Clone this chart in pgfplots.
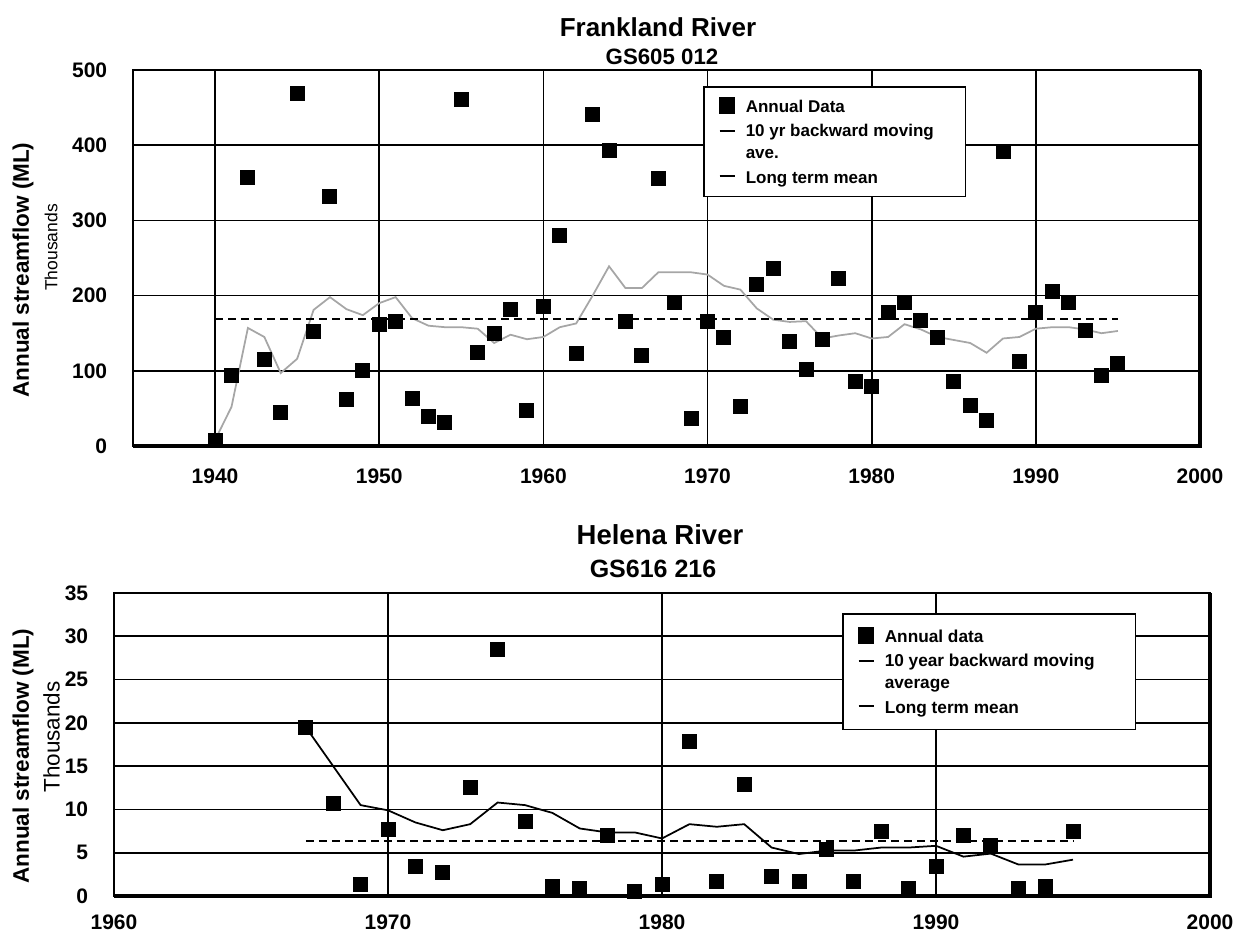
\documentclass[border=0pt]{standalone}
\usepackage{fontspec}
\setmainfont{Liberation Sans}
\usepackage{pgfplots}
\usepackage{pgfplotstable}
\pgfplotsset{compat=1.18}

% Frankland River, GS605 012 (annual flow and 10 yr moving average, ML thousands)
\pgfplotstableread{
year annual mavg
1940 8 8
1941 94 52
1942 357 157
1943 115 145
1944 44 97
1945 469 116
1946 152 181
1947 332 198
1948 62 182
1949 100 174
1950 162 190
1951 165 198
1952 63 170
1953 39 160
1954 31 158
1955 461 158
1956 125 156
1957 150 137
1958 181 148
1959 47 142
1960 186 145
1961 280 158
1962 123 163
1963 441 200
1964 393 239
1965 165 210
1966 120 210
1967 356 231
1968 191 231
1969 36 231
1970 165 228
1971 144 213
1972 52 208
1973 215 183
1974 236 168
1975 139 165
1976 102 166
1977 141 143
1978 223 147
1979 86 150
1980 79 143
1981 178 145
1982 191 162
1983 167 155
1984 144 145
1985 86 141
1986 54 137
1987 34 124
1988 392 143
1989 112 145
1990 178 156
1991 206 158
1992 191 158
1993 154 155
1994 94 150
1995 110 153
}\frankland

% Helena River, GS616 216
\pgfplotstableread{
year annual mavg
1967 19.5 19.5
1968 10.7 15.0
1969 1.35 10.5
1970 7.7 9.9
1971 3.4 8.5
1972 2.7 7.6
1973 12.5 8.3
1974 28.5 10.8
1975 8.6 10.5
1976 1.15 9.6
1977 0.9 7.8
1978 7.0 7.35
1979 0.5 7.35
1980 1.35 6.65
1981 17.9 8.3
1982 1.7 8.0
1983 12.9 8.3
1984 2.2 5.6
1985 1.7 4.85
1986 5.4 5.25
1987 1.7 5.25
1988 7.5 5.6
1989 0.9 5.6
1990 3.4 5.8
1991 7.0 4.55
1992 5.8 4.9
1993 0.9 3.65
1994 1.15 3.65
1995 7.5 4.2
}\helena

\pgfplotsset{
  river/.style={
    scale only axis,
    anchor=south west,
    clip=false,
    axis line style={line width=0.8pt},
    grid=major,
    major grid style={black, line width=0.7pt},
    major tick length=0pt,
    ticklabel style={font=\bfseries\fontsize{8.4}{10}\selectfont},
    xticklabel style={yshift=-5.4pt},
    yticklabel style={xshift=-6.8pt},
    /pgf/number format/assume math mode=true,
    /pgf/number format/set thousands separator={},
    legend cell align=left,
    legend style={anchor=north west, draw=black, line width=0.7pt,
      cells={align=left}, row sep=2pt, inner xsep=6pt, inner ysep=3.2pt,
      nodes={inner xsep=2.5pt, inner ysep=1pt, text depth=0pt}},
    after end axis/.code={
      \draw[line width=1.4pt] (rel axis cs:0,0) -- (rel axis cs:1,0) -- (rel axis cs:1,1);
    },
  },
  % legend images: square, short line, short line beside the first of two text lines
  sqimg/.style={legend image code/.code={
    \path[draw=none, fill=none] (0pt,-4.4pt) rectangle (8pt,4.4pt);
    \fill[black] (0pt,-2.7pt) rectangle (6pt,3.3pt);}},
  lnimg/.style={legend image code/.code={
    \path[draw=none, fill=none] (0pt,-4.4pt) rectangle (8pt,4.4pt);
    \draw[black, line width=0.7pt] (0pt,0.6pt) -- (6pt,0.6pt);}},
  lnimgtwo/.style={legend image code/.code={
    \path[draw=none, fill=none] (0pt,-4.4pt) rectangle (8pt,4.4pt);
    \draw[black, line width=0.7pt] (0pt,4.4pt) -- (6pt,4.4pt);}},
}

\begin{document}
\begin{tikzpicture}
\useasboundingbox (0,0) rectangle (494.4pt,-372.8pt);

% ---- Frankland River ----
\node[font=\bfseries\fontsize{10.4}{12}\selectfont] at (263.2pt,-11pt) {Frankland River};
\node[font=\bfseries\fontsize{8.9}{11}\selectfont] at (264.8pt,-22.8pt) {GS605 012};
\node[rotate=90, font=\bfseries\fontsize{9}{11}\selectfont] at (9.2pt,-108pt) {Annual streamflow (ML)};
\node[rotate=90, font=\fontsize{7}{9}\selectfont] at (20.4pt,-99pt) {Thousands};

\begin{axis}[river,
  at={(53.2pt,-178.4pt)}, width=426.8pt, height=150.4pt,
  xmin=1935, xmax=2000, ymin=0, ymax=500,
  xtick={1940,1950,...,2000}, ytick={0,100,...,500},
  legend style={at={(0.534,0.957)}, font=\bfseries\fontsize{6.8}{8.8}\selectfont},
]
\addlegendimage{sqimg}
\addlegendentry{Annual Data}
\addlegendimage{lnimgtwo}
\addlegendentry{10 yr backward moving\hspace*{4.2pt}\\ave.}
\addlegendimage{lnimg}
\addlegendentry{Long term mean}

\addplot[forget plot, color={rgb,255:red,166;green,166;blue,166}, line width=0.7pt]
  table[x=year, y=mavg] {\frankland};
\addplot[forget plot, black, line width=0.8pt, dash pattern=on 3.2pt off 2pt]
  coordinates {(1940,169) (1995,169)};
\addplot[forget plot, only marks, mark=square*, mark size=2.8pt, black]
  table[x=year, y=annual] {\frankland};
\end{axis}

% ---- Helena River ----
\node[font=\bfseries\fontsize{11}{13}\selectfont] at (264pt,-213.9pt) {Helena River};
\node[font=\bfseries\fontsize{10}{12}\selectfont] at (261.2pt,-227.6pt) {GS616 216};
\node[rotate=90, font=\bfseries\fontsize{9}{11}\selectfont] at (9.2pt,-302.4pt) {Annual streamflow (ML)};
\node[rotate=90, font=\fontsize{9}{11}\selectfont] at (20.6pt,-294.8pt) {Thousands};

\begin{axis}[river,
  at={(45.6pt,-358.4pt)}, width=438.4pt, height=121.2pt,
  xmin=1960, xmax=2000, ymin=0, ymax=35,
  xtick={1960,1970,...,2000}, ytick={0,5,...,35},
  xticklabel style={yshift=1.4pt},
  legend style={at={(0.664,0.934)}, inner ysep=4.4pt, font=\bfseries\fontsize{6.9}{8.8}\selectfont},
]
\addlegendimage{sqimg}
\addlegendentry{Annual data}
\addlegendimage{lnimgtwo}
\addlegendentry{10 year backward moving\hspace*{7.8pt}\\average}
\addlegendimage{lnimg}
\addlegendentry{Long term mean}

\addplot[forget plot, black, line width=0.7pt]
  table[x=year, y=mavg] {\helena};
\addplot[forget plot, black, line width=0.8pt, dash pattern=on 3.2pt off 2pt]
  coordinates {(1967,6.4) (1995,6.4)};
\addplot[forget plot, only marks, mark=square*, mark size=2.8pt, black]
  table[x=year, y=annual] {\helena};
\end{axis}
\end{tikzpicture}
\end{document}
